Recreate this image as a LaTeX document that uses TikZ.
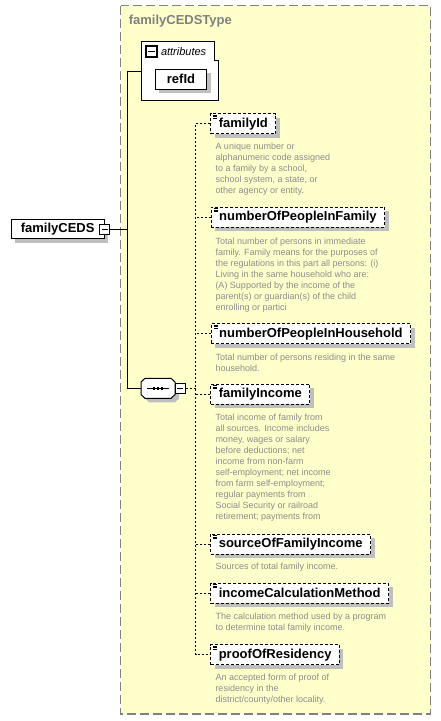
\documentclass[tikz,border=0pt]{standalone}
\usepackage{fontspec}
\setmainfont{Liberation Sans}
\usetikzlibrary{positioning,shadows}
\definecolor{typefill}{RGB}{255,255,204}
\definecolor{typeline}{RGB}{128,128,128}
\definecolor{desctext}{RGB}{140,140,140}
\tikzset{
	boxshadow/.style={drop shadow={shadow xshift=4pt,shadow yshift=-4pt,opacity=1,fill=black!25}},
	elem/.style={draw,dash pattern=on 3pt off 2pt,fill=white,boxshadow,anchor=west,
		font=\fontsize{13}{15}\selectfont\bfseries,minimum height=20pt,inner xsep=8pt,inner ysep=0pt,
		path picture={\draw[solid,line width=.7pt]
			([xshift=2.5pt,yshift=-1.5pt]path picture bounding box.north west) -- ++(4,0)
			([xshift=2.5pt,yshift=-3pt]path picture bounding box.north west) -- ++(4,0)
			([xshift=2.5pt,yshift=-4.5pt]path picture bounding box.north west) -- ++(4,0);}},
	plain/.style={draw,fill=white,boxshadow,font=\fontsize{13}{15}\selectfont\bfseries,inner sep=0pt},
	desc/.style={font=\fontsize{9}{11}\selectfont,text=desctext,align=left,inner sep=0pt},
	minusbox/.style={draw,fill=white,minimum size=10pt,inner sep=0pt,
		path picture={\draw ([xshift=2pt]path picture bounding box.west) -- ([xshift=-2pt]path picture bounding box.east);}},
	tree/.style={draw,line width=1pt},
	seqline/.style={draw,line width=1pt,dash pattern=on 2pt off 2pt}
}
\newcommand\seqoutline{(141,382)--(145,378.3)--(171,378.3)--(175,382)--(175,394.6)--(171,398.3)--(145,398.3)--(141,394.6)--cycle}
\begin{document}
\begin{tikzpicture}[x=1pt,y=-1pt,line width=1pt]
	\useasboundingbox (0,0) rectangle (441,721);
	% complex type frame
	\filldraw [fill=typefill,draw=typeline,line width=1.3pt,dash pattern=on 9pt off 4pt] (120.7,5.7) rectangle (430.7,714);
	\node [anchor=west,inner sep=0pt,text=typeline,font=\fontsize{13}{15}\selectfont\bfseries] (typeTitle) at (128.3,20.8) {familyCEDSType};
	% attributes
	\filldraw [fill=white] (141.7,41.3)--(214,41.3)--(214,60.7)--(218.7,60.7)--(218.7,100.3)--(141.7,100.3)--cycle;
	\node [minusbox,minimum size=11pt,line width=1.4pt] (attrMinus) at (151.5,51.5) {};
	\node [anchor=west,inner sep=0pt,font=\fontsize{11}{13}\selectfont\itshape] (attrLabel) at (160.5,51.5) {attributes};
	\node [plain,minimum width=51.4pt,minimum height=20pt] (refId) at (181,79.3) {refId};
	\coordinate (attrW) at (141.7,71);
	% root element
	\node [plain,minimum width=93.3pt,minimum height=19pt] (familyCEDS) at (57.7,229.2) {familyCEDS};
	\node [minusbox] (cedsMinus) at (familyCEDS.east) {};
	% sequence
	\fill [black!25,shift={(4,4)}] \seqoutline;
	\filldraw [fill=white] \seqoutline;
	\node [minimum width=34pt,minimum height=20pt,inner sep=0pt] (seq) at (158,388.3) {};
	\draw ([xshift=-11.3pt]seq.center) -- ([xshift=11.3pt]seq.center);
	\foreach \dx in {-4,0,4}
		\fill ([xshift=\dx pt]seq.center) +(-1.3,-1.3) rectangle +(1.3,1.3);
	\node [minusbox] (seqMinus) at (180,388.3) {};
	% child elements
	\node [elem] (familyId) at (210.3,123.7) {familyId};
	\node [elem] (numberOfPeopleInFamily) at (210.7,217) {numberOfPeopleInFamily};
	\node [elem] (numberOfPeopleInHousehold) at (210.7,333.7) {numberOfPeopleInHousehold};
	\node [elem] (familyIncome) at (210.3,394.3) {familyIncome};
	\node [elem] (sourceOfFamilyIncome) at (210.3,544) {sourceOfFamilyIncome};
	\node [elem] (incomeCalculationMethod) at (210.3,593.3) {incomeCalculationMethod};
	\node [elem] (proofOfResidency) at (210.3,654.7) {proofOfResidency};
	% annotations
	\node [desc,below right=8.7pt and 4.7pt of familyId.south west,anchor=north west] (familyIdDesc)
		{A unique number or\\alphanumeric code assigned\\to a family by a school,\\school system, a state, or\\other agency or entity.};
	\node [desc,below right=10pt and 4.3pt of numberOfPeopleInFamily.south west,anchor=north west] (numberOfPeopleInFamilyDesc)
		{Total number of persons in immediate\\family. Family means for the purposes of\\the regulations in this part all persons: (i)\\Living in the same household who are:\\(A) Supported by the income of the\\parent(s) or guardian(s) of the child\\enrolling or partici};
	\node [desc,below right=9pt and 4.3pt of numberOfPeopleInHousehold.south west,anchor=north west] (numberOfPeopleInHouseholdDesc)
		{Total number of persons residing in the same\\household.};
	\node [desc,below right=9pt and 4.7pt of familyIncome.south west,anchor=north west] (familyIncomeDesc)
		{Total income of family from\\all sources. Income includes\\money, wages or salary\\before deductions; net\\income from non-farm\\self-employment; net income\\from farm self-employment;\\regular payments from\\Social Security or railroad\\retirement; payments from};
	\node [desc,below right=8.4pt and 4.7pt of sourceOfFamilyIncome.south west,anchor=north west] (sourceOfFamilyIncomeDesc)
		{Sources of total family income.};
	\node [desc,below right=9.1pt and 4.7pt of incomeCalculationMethod.south west,anchor=north west] (incomeCalculationMethodDesc)
		{The calculation method used by a program\\to determine total family income.};
	\node [desc,below right=8.7pt and 4.7pt of proofOfResidency.south west,anchor=north west] (proofOfResidencyDesc)
		{An accepted form of proof of\\residency in the\\district/county/other locality.};
	% connectors
	\coordinate (trunk) at (127,0);
	\coordinate (spine) at (195.5,0);
	\draw [tree] (attrW) -| (trunk |- seq.west) -- (seq.west);
	\draw [tree] (cedsMinus.east) -- (cedsMinus.east -| trunk);
	\draw [seqline] (seqMinus.east) -- (seqMinus.east -| spine);
	\draw [seqline] (familyId.west) -| (spine |- proofOfResidency.west) -- (proofOfResidency.west);
	\foreach \el in {numberOfPeopleInFamily,numberOfPeopleInHousehold,familyIncome,sourceOfFamilyIncome,incomeCalculationMethod}
		\draw [seqline] (\el.west) -- (spine |- \el.west);
\end{tikzpicture}
\end{document}
